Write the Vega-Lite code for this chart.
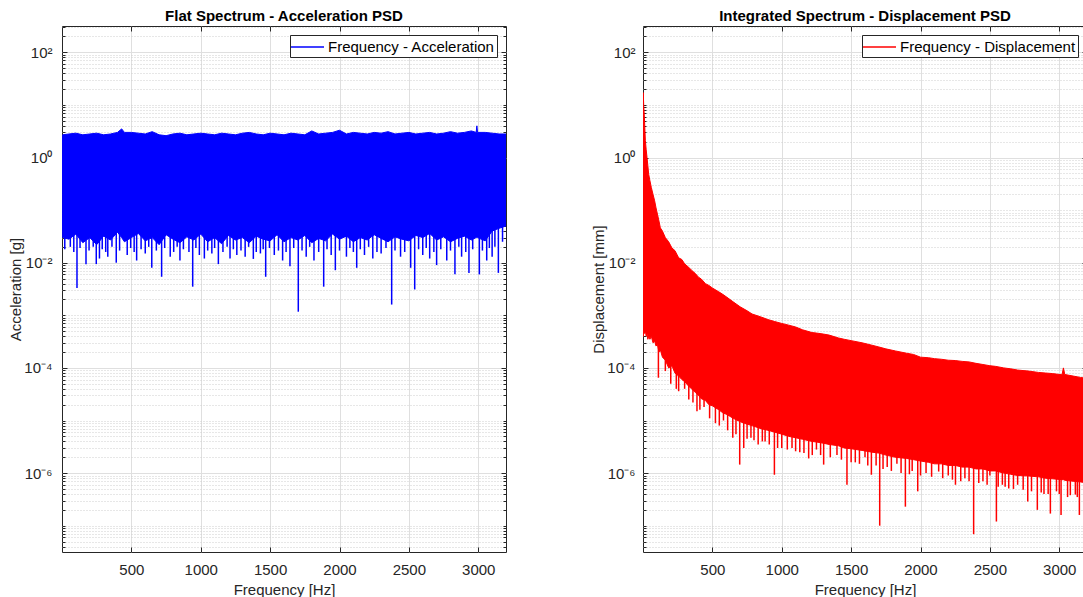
{
  "$schema": "https://vega.github.io/schema/vega-lite/v6.json",
  "background": "white",
  "padding": {"left": 8, "top": 8, "right": 0, "bottom": 0},
  "datasets": {
    "acc": [
      {"f":0,"hi":1.0,"lo":0.4},{"f":5,"hi":2.7,"lo":0.03},{"f":50,"hi":2.8,"lo":0.028},{"f":100,"hi":2.9,"lo":0.035},
      {"f":150,"hi":2.7,"lo":0.024},{"f":200,"hi":2.8,"lo":0.03},{"f":250,"hi":2.9,"lo":0.022},{"f":300,"hi":2.7,"lo":0.032},
      {"f":350,"hi":2.8,"lo":0.027},{"f":400,"hi":3.0,"lo":0.038},{"f":430,"hi":3.5,"lo":0.03},{"f":450,"hi":3.0,"lo":0.025},
      {"f":500,"hi":3.0,"lo":0.03},{"f":550,"hi":2.9,"lo":0.036},{"f":600,"hi":2.8,"lo":0.026},{"f":650,"hi":3.1,"lo":0.03},
      {"f":700,"hi":2.7,"lo":0.022},{"f":750,"hi":2.6,"lo":0.034},{"f":800,"hi":2.8,"lo":0.028},{"f":850,"hi":2.9,"lo":0.024},
      {"f":900,"hi":2.7,"lo":0.031},{"f":950,"hi":2.8,"lo":0.027},{"f":1000,"hi":2.9,"lo":0.035},{"f":1050,"hi":2.8,"lo":0.025},
      {"f":1100,"hi":2.7,"lo":0.03},{"f":1150,"hi":2.9,"lo":0.023},{"f":1200,"hi":2.8,"lo":0.033},{"f":1250,"hi":2.7,"lo":0.027},
      {"f":1300,"hi":2.9,"lo":0.03},{"f":1350,"hi":3.0,"lo":0.024},{"f":1400,"hi":2.8,"lo":0.032},{"f":1450,"hi":2.7,"lo":0.028},
      {"f":1500,"hi":2.9,"lo":0.026},{"f":1550,"hi":2.8,"lo":0.034},{"f":1600,"hi":2.7,"lo":0.025},{"f":1650,"hi":2.9,"lo":0.03},
      {"f":1700,"hi":2.8,"lo":0.027},{"f":1750,"hi":2.7,"lo":0.033},{"f":1800,"hi":3.2,"lo":0.024},{"f":1850,"hi":2.8,"lo":0.029},
      {"f":1900,"hi":2.9,"lo":0.026},{"f":1950,"hi":3.0,"lo":0.035},{"f":2000,"hi":3.3,"lo":0.028},{"f":2050,"hi":2.8,"lo":0.032},
      {"f":2100,"hi":3.0,"lo":0.025},{"f":2150,"hi":2.9,"lo":0.03},{"f":2200,"hi":2.8,"lo":0.027},{"f":2250,"hi":3.0,"lo":0.034},
      {"f":2300,"hi":2.9,"lo":0.029},{"f":2350,"hi":3.1,"lo":0.025},{"f":2400,"hi":2.8,"lo":0.031},{"f":2450,"hi":2.9,"lo":0.028},
      {"f":2500,"hi":3.0,"lo":0.026},{"f":2550,"hi":2.8,"lo":0.033},{"f":2600,"hi":2.9,"lo":0.03},{"f":2650,"hi":3.0,"lo":0.036},
      {"f":2700,"hi":2.8,"lo":0.027},{"f":2750,"hi":2.9,"lo":0.031},{"f":2800,"hi":3.1,"lo":0.025},{"f":2850,"hi":2.9,"lo":0.029},
      {"f":2900,"hi":3.0,"lo":0.032},{"f":2950,"hi":3.2,"lo":0.027},{"f":2985,"hi":3.0,"lo":0.03},{"f":2990,"hi":4.0,"lo":0.03},
      {"f":2995,"hi":3.0,"lo":0.03},{"f":3050,"hi":3.0,"lo":0.026},{"f":3100,"hi":2.9,"lo":0.04},{"f":3150,"hi":2.8,"lo":0.045},
      {"f":3200,"hi":2.8,"lo":0.05}
    ],
    "accSpikes": [
      {"f":108,"v":0.0033,"top":0.05},{"f":173,"v":0.0093,"top":0.05},{"f":247,"v":0.0094,"top":0.05},{"f":270,"v":0.012,"top":0.05},
      {"f":330,"v":0.013,"top":0.05},{"f":391,"v":0.01,"top":0.05},{"f":470,"v":0.014,"top":0.05},{"f":538,"v":0.011,"top":0.05},
      {"f":600,"v":0.015,"top":0.05},{"f":647,"v":0.008,"top":0.05},{"f":718,"v":0.0054,"top":0.05},{"f":780,"v":0.013,"top":0.05},
      {"f":850,"v":0.011,"top":0.05},{"f":942,"v":0.0035,"top":0.05},{"f":990,"v":0.014,"top":0.05},{"f":1026,"v":0.012,"top":0.05},
      {"f":1080,"v":0.015,"top":0.05},{"f":1127,"v":0.0094,"top":0.05},{"f":1211,"v":0.012,"top":0.05},{"f":1260,"v":0.014,"top":0.05},
      {"f":1320,"v":0.013,"top":0.05},{"f":1379,"v":0.0118,"top":0.05},{"f":1430,"v":0.015,"top":0.05},{"f":1468,"v":0.0054,"top":0.05},
      {"f":1530,"v":0.014,"top":0.05},{"f":1590,"v":0.011,"top":0.05},{"f":1643,"v":0.0086,"top":0.05},{"f":1703,"v":0.00117,"top":0.05},
      {"f":1760,"v":0.013,"top":0.05},{"f":1816,"v":0.011,"top":0.05},{"f":1886,"v":0.0035,"top":0.05},{"f":1940,"v":0.014,"top":0.05},
      {"f":1970,"v":0.0072,"top":0.05},{"f":2050,"v":0.013,"top":0.05},{"f":2124,"v":0.008,"top":0.05},{"f":2180,"v":0.014,"top":0.05},
      {"f":2240,"v":0.012,"top":0.05},{"f":2300,"v":0.015,"top":0.05},{"f":2376,"v":0.0016,"top":0.05},{"f":2440,"v":0.013,"top":0.05},
      {"f":2513,"v":0.008,"top":0.05},{"f":2542,"v":0.0031,"top":0.05},{"f":2600,"v":0.014,"top":0.05},{"f":2650,"v":0.012,"top":0.05},
      {"f":2700,"v":0.009,"top":0.05},{"f":2773,"v":0.011,"top":0.05},{"f":2832,"v":0.006,"top":0.05},{"f":2880,"v":0.013,"top":0.05},
      {"f":2933,"v":0.0064,"top":0.05},{"f":3008,"v":0.006,"top":0.05},{"f":3061,"v":0.011,"top":0.05},{"f":3100,"v":0.013,"top":0.05},
      {"f":3145,"v":0.0064,"top":0.05},
      {"f":20,"v":0.018,"top":0.05},{"f":60,"v":0.02,"top":0.05},{"f":85,"v":0.016,"top":0.05},{"f":130,"v":0.019,"top":0.05},
      {"f":195,"v":0.017,"top":0.05},{"f":225,"v":0.02,"top":0.05},{"f":290,"v":0.018,"top":0.05},{"f":315,"v":0.016,"top":0.05},
      {"f":360,"v":0.02,"top":0.05},{"f":415,"v":0.017,"top":0.05},{"f":495,"v":0.019,"top":0.05},{"f":520,"v":0.016,"top":0.05},
      {"f":570,"v":0.018,"top":0.05},{"f":625,"v":0.02,"top":0.05},{"f":680,"v":0.017,"top":0.05},{"f":740,"v":0.019,"top":0.05},
      {"f":805,"v":0.016,"top":0.05},{"f":830,"v":0.02,"top":0.05},{"f":875,"v":0.018,"top":0.05},{"f":915,"v":0.016,"top":0.05},
      {"f":965,"v":0.019,"top":0.05},{"f":1050,"v":0.017,"top":0.05},{"f":1100,"v":0.019,"top":0.05},{"f":1160,"v":0.016,"top":0.05},
      {"f":1190,"v":0.02,"top":0.05},{"f":1235,"v":0.018,"top":0.05},{"f":1290,"v":0.017,"top":0.05},{"f":1345,"v":0.02,"top":0.05},
      {"f":1400,"v":0.016,"top":0.05},{"f":1450,"v":0.018,"top":0.05},{"f":1495,"v":0.019,"top":0.05},{"f":1560,"v":0.017,"top":0.05},
      {"f":1615,"v":0.016,"top":0.05},{"f":1670,"v":0.019,"top":0.05},{"f":1730,"v":0.017,"top":0.05},{"f":1785,"v":0.02,"top":0.05},
      {"f":1850,"v":0.016,"top":0.05},{"f":1910,"v":0.018,"top":0.05},{"f":2000,"v":0.017,"top":0.05},{"f":2075,"v":0.019,"top":0.05},
      {"f":2100,"v":0.016,"top":0.05},{"f":2150,"v":0.018,"top":0.05},{"f":2210,"v":0.02,"top":0.05},{"f":2270,"v":0.016,"top":0.05},
      {"f":2335,"v":0.019,"top":0.05},{"f":2400,"v":0.017,"top":0.05},{"f":2470,"v":0.016,"top":0.05},{"f":2570,"v":0.018,"top":0.05},
      {"f":2625,"v":0.019,"top":0.05},{"f":2680,"v":0.016,"top":0.05},{"f":2730,"v":0.018,"top":0.05},{"f":2800,"v":0.017,"top":0.05},
      {"f":2860,"v":0.02,"top":0.05},{"f":2910,"v":0.016,"top":0.05},{"f":2960,"v":0.018,"top":0.05},{"f":3030,"v":0.017,"top":0.05},
      {"f":3080,"v":0.019,"top":0.05},{"f":3120,"v":0.02,"top":0.05},{"f":3175,"v":0.025,"top":0.05}
    ],
    "disp": [
      {"f":0,"hi":17,"lo":0.0004},{"f":2,"hi":17,"lo":0.0004},{"f":5,"hi":10,"lo":0.0005},{"f":10,"hi":5.8,"lo":0.00045},{"f":17,"hi":2.1,"lo":0.0005},
      {"f":23,"hi":1.4,"lo":0.0004},{"f":29,"hi":1.0,"lo":0.00045},{"f":35,"hi":0.7,"lo":0.00035},{"f":41,"hi":0.48,"lo":0.0004},
      {"f":50,"hi":0.36,"lo":0.00035},{"f":60,"hi":0.27,"lo":0.0004},{"f":72,"hi":0.2,"lo":0.0003},{"f":84,"hi":0.15,"lo":0.00032},
      {"f":94,"hi":0.11,"lo":0.00026},{"f":104,"hi":0.084,"lo":0.00028},{"f":115,"hi":0.062,"lo":0.0002},{"f":125,"hi":0.046,"lo":0.00022},
      {"f":140,"hi":0.04,"lo":0.00016},{"f":161,"hi":0.03,"lo":0.00014},{"f":185,"hi":0.025,"lo":0.0001},{"f":209,"hi":0.019,"lo":0.00011},
      {"f":230,"hi":0.017,"lo":0.00008},{"f":257,"hi":0.0124,"lo":0.00007},{"f":280,"hi":0.0115,"lo":0.00006},{"f":300,"hi":0.0095,"lo":0.000055},
      {"f":329,"hi":0.0082,"lo":0.000045},{"f":350,"hi":0.0072,"lo":0.00004},{"f":378,"hi":0.0062,"lo":0.000034},{"f":400,"hi":0.0053,"lo":0.00003},
      {"f":420,"hi":0.0049,"lo":0.000026},{"f":450,"hi":0.004,"lo":0.000024},{"f":475,"hi":0.0037,"lo":0.00002},{"f":500,"hi":0.0033,"lo":0.000019},
      {"f":546,"hi":0.0028,"lo":0.000016},{"f":575,"hi":0.0025,"lo":0.000014},{"f":605,"hi":0.0022,"lo":0.000013},{"f":650,"hi":0.0018,"lo":0.000011},
      {"f":700,"hi":0.00145,"lo":0.0000095},{"f":750,"hi":0.00122,"lo":0.0000085},{"f":786,"hi":0.00106,"lo":0.000008},{"f":850,"hi":0.00093,"lo":0.000007},
      {"f":900,"hi":0.00083,"lo":0.0000065},{"f":950,"hi":0.00076,"lo":0.000006},{"f":1000,"hi":0.0007,"lo":0.0000055},{"f":1050,"hi":0.00065,"lo":0.000005},
      {"f":1100,"hi":0.0006,"lo":0.0000047},{"f":1150,"hi":0.00053,"lo":0.0000044},{"f":1218,"hi":0.00047,"lo":0.000004},{"f":1250,"hi":0.00046,"lo":0.0000039},
      {"f":1300,"hi":0.00044,"lo":0.0000037},{"f":1342,"hi":0.00042,"lo":0.0000035},{"f":1410,"hi":0.00037,"lo":0.0000033},{"f":1450,"hi":0.00035,"lo":0.000003},
      {"f":1500,"hi":0.00033,"lo":0.0000029},{"f":1579,"hi":0.0003,"lo":0.0000027},{"f":1650,"hi":0.00027,"lo":0.0000025},{"f":1700,"hi":0.00025,"lo":0.0000024},
      {"f":1750,"hi":0.00023,"lo":0.0000022},{"f":1819,"hi":0.00021,"lo":0.000002},{"f":1900,"hi":0.00019,"lo":0.0000019},{"f":1950,"hi":0.00018,"lo":0.0000018},
      {"f":2000,"hi":0.00016,"lo":0.0000017},{"f":2059,"hi":0.000156,"lo":0.0000016},{"f":2100,"hi":0.00015,"lo":0.0000015},{"f":2150,"hi":0.000146,"lo":0.0000015},
      {"f":2200,"hi":0.00014,"lo":0.0000014},{"f":2250,"hi":0.000138,"lo":0.0000014},{"f":2300,"hi":0.000133,"lo":0.0000013},{"f":2350,"hi":0.00013,"lo":0.0000013},
      {"f":2400,"hi":0.000122,"lo":0.0000012},{"f":2450,"hi":0.000116,"lo":0.0000012},{"f":2500,"hi":0.00011,"lo":0.0000011},{"f":2540,"hi":0.000107,"lo":0.0000011},
      {"f":2600,"hi":0.0001,"lo":0.000001},{"f":2650,"hi":0.000096,"lo":0.00000095},{"f":2700,"hi":0.000091,"lo":0.0000009},{"f":2780,"hi":0.000087,"lo":0.00000088},
      {"f":2850,"hi":0.000082,"lo":0.00000085},{"f":2900,"hi":0.00008,"lo":0.0000008},{"f":2950,"hi":0.000078,"lo":0.00000078},{"f":3020,"hi":0.000074,"lo":0.00000075},
      {"f":3030,"hi":0.0001,"lo":0.00000075},{"f":3040,"hi":0.000075,"lo":0.00000073},{"f":3100,"hi":0.00007,"lo":0.0000007},{"f":3152,"hi":0.000066,"lo":0.00000068},
      {"f":3200,"hi":0.000063,"lo":0.00000065}
    ],
    "dispSpikes": [
      {"f":111,"v":0.000065,"top":0.0003},{"f":161,"v":0.000087,"top":0.0002},{"f":257,"v":0.000036,"top":0.0001},{"f":300,"v":0.00004,"top":0.00008},
      {"f":389,"v":0.000015,"top":0.00005},{"f":440,"v":0.000018,"top":0.00004},{"f":522,"v":0.0000089,"top":0.000025},{"f":580,"v":0.00001,"top":0.00002},
      {"f":647,"v":0.0000047,"top":0.000016},{"f":697,"v":0.00000145,"top":0.000014},{"f":726,"v":0.000003,"top":0.000013},{"f":778,"v":0.0000047,"top":0.000012},
      {"f":830,"v":0.0000035,"top":0.00001},{"f":880,"v":0.000004,"top":0.00001},{"f":947,"v":0.00000093,"top":0.000009},{"f":1000,"v":0.000003,"top":0.000008},
      {"f":1074,"v":0.000003,"top":0.000007},{"f":1130,"v":0.0000025,"top":0.000007},{"f":1194,"v":0.0000019,"top":0.000006},{"f":1250,"v":0.0000028,"top":0.000006},
      {"f":1302,"v":0.00000145,"top":0.0000055},{"f":1398,"v":0.0000022,"top":0.000005},{"f":1470,"v":0.0000006,"top":0.0000045},{"f":1530,"v":0.0000016,"top":0.0000043},
      {"f":1600,"v":0.000002,"top":0.000004},{"f":1646,"v":0.00000093,"top":0.0000038},{"f":1706,"v":0.0000001,"top":0.0000035},{"f":1760,"v":0.0000013,"top":0.0000033},
      {"f":1830,"v":0.0000015,"top":0.000003},{"f":1891,"v":0.00000023,"top":0.0000029},{"f":1940,"v":0.0000011,"top":0.0000027},{"f":1980,"v":0.00000045,"top":0.0000026},
      {"f":2040,"v":0.000001,"top":0.0000025},{"f":2131,"v":0.00000107,"top":0.0000023},{"f":2200,"v":0.0000009,"top":0.0000021},{"f":2252,"v":0.0000006,"top":0.0000021},
      {"f":2320,"v":0.0000008,"top":0.000002},{"f":2383,"v":0.000000069,"top":0.000002},{"f":2450,"v":0.0000007,"top":0.0000018},{"f":2500,"v":0.0000009,"top":0.0000017},
      {"f":2547,"v":0.00000012,"top":0.0000016},{"f":2590,"v":0.0000006,"top":0.0000015},{"f":2636,"v":0.00000051,"top":0.0000015},{"f":2700,"v":0.0000006,"top":0.0000014},
      {"f":2773,"v":0.00000029,"top":0.0000013},{"f":2842,"v":0.0000002,"top":0.0000013},{"f":2890,"v":0.0000004,"top":0.0000012},{"f":2936,"v":0.00000017,"top":0.0000012},
      {"f":2980,"v":0.00000045,"top":0.0000012},{"f":3013,"v":0.00000016,"top":0.0000011},{"f":3060,"v":0.00000035,"top":0.0000011},{"f":3116,"v":0.00000039,"top":0.000001},
      {"f":3145,"v":0.00000016,"top":0.000001},{"f":3180,"v":0.0000003,"top":0.000001},
      {"f":200,"v":0.00005,"top":0.00015},{"f":240,"v":0.00004,"top":0.0001},{"f":330,"v":0.000025,"top":0.00006},{"f":360,"v":0.000022,"top":0.00005},
      {"f":410,"v":0.000016,"top":0.00004},{"f":480,"v":0.000011,"top":0.00003},{"f":550,"v":0.000008,"top":0.000022},{"f":610,"v":0.0000065,"top":0.000018},
      {"f":670,"v":0.0000055,"top":0.000015},{"f":750,"v":0.0000045,"top":0.000012},{"f":800,"v":0.0000042,"top":0.000011},{"f":860,"v":0.000004,"top":0.00001},
      {"f":910,"v":0.0000035,"top":0.000009},{"f":970,"v":0.000003,"top":0.000008},{"f":1040,"v":0.0000028,"top":0.000007},{"f":1100,"v":0.0000026,"top":0.0000065},
      {"f":1160,"v":0.0000024,"top":0.000006},{"f":1220,"v":0.0000022,"top":0.0000055},{"f":1280,"v":0.0000022,"top":0.0000055},{"f":1350,"v":0.000002,"top":0.000005},
      {"f":1430,"v":0.0000018,"top":0.0000045},{"f":1500,"v":0.0000016,"top":0.0000042},{"f":1560,"v":0.0000015,"top":0.000004},{"f":1620,"v":0.0000014,"top":0.0000037},
      {"f":1680,"v":0.0000014,"top":0.0000035},{"f":1730,"v":0.0000012,"top":0.0000032},{"f":1790,"v":0.0000011,"top":0.000003},{"f":1860,"v":0.000001,"top":0.0000028},
      {"f":1920,"v":0.00000095,"top":0.0000027},{"f":2000,"v":0.0000009,"top":0.0000025},{"f":2080,"v":0.00000085,"top":0.0000023},{"f":2160,"v":0.0000008,"top":0.0000022},
      {"f":2230,"v":0.00000075,"top":0.0000021},{"f":2290,"v":0.0000007,"top":0.000002},{"f":2350,"v":0.0000007,"top":0.0000019},{"f":2420,"v":0.00000065,"top":0.0000018},
      {"f":2480,"v":0.0000006,"top":0.0000017},{"f":2560,"v":0.00000055,"top":0.0000016},{"f":2610,"v":0.00000055,"top":0.0000015},{"f":2670,"v":0.0000005,"top":0.0000014},
      {"f":2740,"v":0.00000048,"top":0.0000013},{"f":2800,"v":0.00000045,"top":0.0000013},{"f":2870,"v":0.00000043,"top":0.0000012},{"f":2920,"v":0.0000004,"top":0.0000012},
      {"f":3000,"v":0.0000004,"top":0.0000011},{"f":3080,"v":0.00000038,"top":0.0000011},{"f":3130,"v":0.00000035,"top":0.000001},{"f":3195,"v":0.00000032,"top":0.000001}
    ]
  },
  "spacing": 84,
  "resolve": {"scale": {"x": "independent", "y": "independent", "color": "independent"}, "legend": {"color": "independent"}},
  "hconcat": [
    {
      "width": 444,
      "height": 526,
      "title": "Flat Spectrum - Acceleration PSD",
      "resolve": {"axis": {"x": "independent", "y": "independent"}},
      "layer": [
        {
          "data": {"name": "acc"},
          "mark": {"type": "area", "color": "#0000ff", "stroke": "#0000ff", "strokeWidth": 1, "clip": true},
          "encoding": {
            "x": {"field": "f", "type": "quantitative", "scale": {"domain": [0, 3200], "nice": false, "zero": false},
              "axis": {"orient": "bottom", "title": "Frequency [Hz]", "format": "d", "values": [500, 1000, 1500, 2000, 2500, 3000], "grid": true, "gridColor": "#dfdfdf", "tickSize": -5, "labelPadding": 15, "domain": false, "labelFlush": false, "titlePadding": 5}},
            "y": {"field": "hi", "type": "quantitative", "scale": {"type": "log", "domain": [3.1623e-8, 316.23], "nice": false},
              "axis": {"orient": "left", "title": "Acceleration [g]", "titlePadding": 0,
                "values": [4e-8,5e-8,6e-8,7e-8,8e-8,9e-8,1e-7,2e-7,3e-7,4e-7,5e-7,6e-7,7e-7,8e-7,9e-7,1e-6,2e-6,3e-6,4e-6,5e-6,6e-6,7e-6,8e-6,9e-6,1e-5,2e-5,3e-5,4e-5,5e-5,6e-5,7e-5,8e-5,9e-5,0.0001,0.0002,0.0003,0.0004,0.0005,0.0006,0.0007,0.0008,0.0009,0.001,0.002,0.003,0.004,0.005,0.006,0.007,0.008,0.009,0.01,0.02,0.03,0.04,0.05,0.06,0.07,0.08,0.09,0.1,0.2,0.3,0.4,0.5,0.6,0.7,0.8,0.9,1,2,3,4,5,6,7,8,9,10,20,30,40,50,60,70,80,90,100,200,300],
                "labelExpr": "datum.value === 100 ? '10²' : datum.value === 1 ? '10⁰' : datum.value === 0.01 ? '10⁻²' : datum.value === 0.0001 ? '10⁻⁴' : datum.value === 0.000001 ? '10⁻⁶' : ''",
                "labelOverlap": false, "labelFlush": false, "labelPadding": 15, "domain": false, "grid": true,
                "tickSize": {"condition": {"test": "indexof([0.000001,0.0001,0.01,1,100], datum.value) >= 0", "value": -5}, "value": -3},
                "gridColor": {"condition": {"test": "indexof([0.000001,0.0001,0.01,1,100], datum.value) >= 0", "value": "#dfdfdf"}, "value": "#cfcfcf"},
                "gridDash": {"condition": {"test": "indexof([0.000001,0.0001,0.01,1,100], datum.value) >= 0", "value": []}, "value": [1, 2]}}},
            "y2": {"field": "lo"}
          }
        },
        {
          "data": {"name": "accSpikes"},
          "mark": {"type": "rule", "strokeWidth": 1.5, "clip": true},
          "encoding": {
            "x": {"field": "f", "type": "quantitative", "axis": {"orient": "top", "title": null, "labels": false, "grid": false, "domain": false, "tickSize": -5, "values": [500, 1000, 1500, 2000, 2500, 3000]}},
            "y": {"field": "v", "type": "quantitative", "scale": {"type": "log", "domain": [3.1623e-8, 316.23], "nice": false},
              "axis": {"orient": "right", "title": null, "labels": false, "grid": false, "domain": false,
                "values": [4e-8,5e-8,6e-8,7e-8,8e-8,9e-8,1e-7,2e-7,3e-7,4e-7,5e-7,6e-7,7e-7,8e-7,9e-7,1e-6,2e-6,3e-6,4e-6,5e-6,6e-6,7e-6,8e-6,9e-6,1e-5,2e-5,3e-5,4e-5,5e-5,6e-5,7e-5,8e-5,9e-5,0.0001,0.0002,0.0003,0.0004,0.0005,0.0006,0.0007,0.0008,0.0009,0.001,0.002,0.003,0.004,0.005,0.006,0.007,0.008,0.009,0.01,0.02,0.03,0.04,0.05,0.06,0.07,0.08,0.09,0.1,0.2,0.3,0.4,0.5,0.6,0.7,0.8,0.9,1,2,3,4,5,6,7,8,9,10,20,30,40,50,60,70,80,90,100,200,300],
                "tickSize": {"condition": {"test": "indexof([0.000001,0.0001,0.01,1,100], datum.value) >= 0", "value": -5}, "value": -3}}},
            "y2": {"field": "top"},
            "color": {"datum": "Frequency - Acceleration", "type": "nominal", "scale": {"range": ["#0000ff"]}}
          }
        }
      ]
    },
    {
      "width": 444,
      "height": 526,
      "title": "Integrated Spectrum - Displacement PSD",
      "resolve": {"axis": {"x": "independent", "y": "independent"}},
      "layer": [
        {
          "data": {"name": "disp"},
          "mark": {"type": "area", "color": "#ff0000", "stroke": "#ff0000", "strokeWidth": 1, "clip": true},
          "encoding": {
            "x": {"field": "f", "type": "quantitative", "scale": {"domain": [0, 3200], "nice": false, "zero": false},
              "axis": {"orient": "bottom", "title": "Frequency [Hz]", "format": "d", "values": [500, 1000, 1500, 2000, 2500, 3000], "grid": true, "gridColor": "#dfdfdf", "tickSize": -5, "labelPadding": 15, "domain": false, "labelFlush": false, "titlePadding": 5}},
            "y": {"field": "hi", "type": "quantitative", "scale": {"type": "log", "domain": [3.1623e-8, 316.23], "nice": false},
              "axis": {"orient": "left", "title": "Displacement [mm]", "titlePadding": 0,
                "values": [4e-8,5e-8,6e-8,7e-8,8e-8,9e-8,1e-7,2e-7,3e-7,4e-7,5e-7,6e-7,7e-7,8e-7,9e-7,1e-6,2e-6,3e-6,4e-6,5e-6,6e-6,7e-6,8e-6,9e-6,1e-5,2e-5,3e-5,4e-5,5e-5,6e-5,7e-5,8e-5,9e-5,0.0001,0.0002,0.0003,0.0004,0.0005,0.0006,0.0007,0.0008,0.0009,0.001,0.002,0.003,0.004,0.005,0.006,0.007,0.008,0.009,0.01,0.02,0.03,0.04,0.05,0.06,0.07,0.08,0.09,0.1,0.2,0.3,0.4,0.5,0.6,0.7,0.8,0.9,1,2,3,4,5,6,7,8,9,10,20,30,40,50,60,70,80,90,100,200,300],
                "labelExpr": "datum.value === 100 ? '10²' : datum.value === 1 ? '10⁰' : datum.value === 0.01 ? '10⁻²' : datum.value === 0.0001 ? '10⁻⁴' : datum.value === 0.000001 ? '10⁻⁶' : ''",
                "labelOverlap": false, "labelFlush": false, "labelPadding": 13, "domain": false, "grid": true,
                "tickSize": {"condition": {"test": "indexof([0.000001,0.0001,0.01,1,100], datum.value) >= 0", "value": -5}, "value": -3},
                "gridColor": {"condition": {"test": "indexof([0.000001,0.0001,0.01,1,100], datum.value) >= 0", "value": "#dfdfdf"}, "value": "#cfcfcf"},
                "gridDash": {"condition": {"test": "indexof([0.000001,0.0001,0.01,1,100], datum.value) >= 0", "value": []}, "value": [1, 2]}}},
            "y2": {"field": "lo"}
          }
        },
        {
          "data": {"name": "dispSpikes"},
          "mark": {"type": "rule", "strokeWidth": 1.5, "clip": true},
          "encoding": {
            "x": {"field": "f", "type": "quantitative", "axis": {"orient": "top", "title": null, "labels": false, "grid": false, "domain": false, "tickSize": -5, "values": [500, 1000, 1500, 2000, 2500, 3000]}},
            "y": {"field": "v", "type": "quantitative", "scale": {"type": "log", "domain": [3.1623e-8, 316.23], "nice": false},
              "axis": {"orient": "right", "title": null, "labels": false, "grid": false, "domain": false,
                "values": [4e-8,5e-8,6e-8,7e-8,8e-8,9e-8,1e-7,2e-7,3e-7,4e-7,5e-7,6e-7,7e-7,8e-7,9e-7,1e-6,2e-6,3e-6,4e-6,5e-6,6e-6,7e-6,8e-6,9e-6,1e-5,2e-5,3e-5,4e-5,5e-5,6e-5,7e-5,8e-5,9e-5,0.0001,0.0002,0.0003,0.0004,0.0005,0.0006,0.0007,0.0008,0.0009,0.001,0.002,0.003,0.004,0.005,0.006,0.007,0.008,0.009,0.01,0.02,0.03,0.04,0.05,0.06,0.07,0.08,0.09,0.1,0.2,0.3,0.4,0.5,0.6,0.7,0.8,0.9,1,2,3,4,5,6,7,8,9,10,20,30,40,50,60,70,80,90,100,200,300],
                "tickSize": {"condition": {"test": "indexof([0.000001,0.0001,0.01,1,100], datum.value) >= 0", "value": -5}, "value": -3}}},
            "y2": {"field": "top"},
            "color": {"datum": "Frequency - Displacement", "type": "nominal", "scale": {"range": ["#ff0000"]}}
          }
        }
      ]
    }
  ],
  "config": {
    "font": "Liberation Sans",
    "view": {"stroke": "#262626", "strokeWidth": 1},
    "axis": {"labelFont": "Liberation Sans", "titleFont": "Liberation Sans", "labelFontSize": 15, "titleFontSize": 15, "titleFontWeight": "normal", "labelColor": "#262626", "titleColor": "#262626", "tickColor": "#262626", "domainColor": "#262626", "gridWidth": 1},
    "title": {"font": "Liberation Sans", "fontSize": 15, "fontWeight": "bold", "color": "#000000", "offset": -4, "baseline": "alphabetic"},
    "legend": {"orient": "top-right", "title": null, "offset": 9, "padding": 2, "strokeColor": "#262626", "fillColor": "white", "labelFont": "Liberation Sans", "labelFontSize": 15, "labelColor": "#000000", "labelLimit": 400, "symbolType": "M-1.222,0H2.444", "symbolSize": 324, "symbolStrokeWidth": 1.6, "labelOffset": 16, "cornerRadius": 0}
  }
}
